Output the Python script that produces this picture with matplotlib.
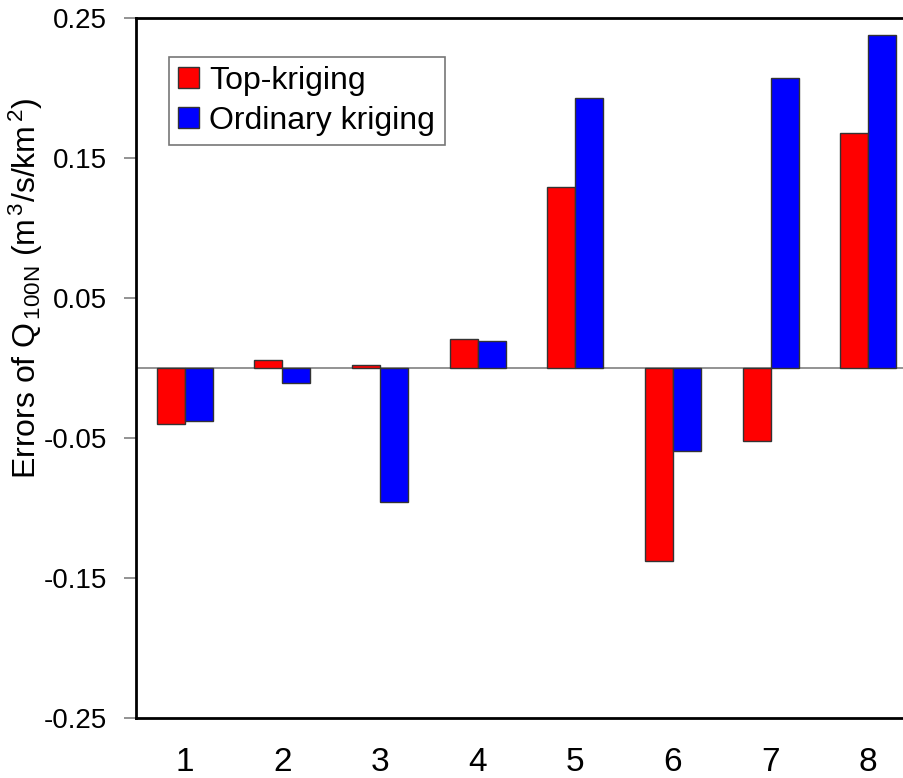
import matplotlib
matplotlib.use("Agg")
import matplotlib.pyplot as plt
import numpy as np

plt.rcParams['font.family'] = ['Liberation Sans', 'DejaVu Sans']
plt.rcParams['mathtext.fontset'] = 'custom'
plt.rcParams['mathtext.rm'] = 'Liberation Sans'
plt.rcParams['mathtext.it'] = 'Liberation Sans'

groups = [1, 2, 3, 4, 5, 6, 7, 8]
top_kriging = [-0.040, 0.0055, 0.002, 0.021, 0.129, -0.138, -0.052, 0.168]
ordinary_kriging = [-0.038, -0.0105, -0.096, 0.0195, 0.193, -0.059, 0.207, 0.238]
yticks = [-0.25, -0.15, -0.05, 0.05, 0.15, 0.25]
ytick_labels = ['-0.25', '-0.15', '-0.05', '0.05', '0.15', '0.25']

fig = plt.figure(figsize=(9.04, 7.78), dpi=100)
ax = fig.add_axes([136 / 904, 1 - 718 / 778, 781 / 904, 700 / 778])

x = np.array(groups)
w = 0.287
ax.axhline(0, color='#808080', lw=1.2, zorder=1)
ax.bar(x - w / 2, top_kriging, w, color='#ff0000', edgecolor='#333333', lw=1, label='Top-kriging', zorder=2)
ax.bar(x + w / 2, ordinary_kriging, w, color='#0000ff', edgecolor='#333333', lw=1, label='Ordinary kriging', zorder=2)

ax.set_xlim(0.5, 8.5)
ax.set_ylim(-0.25, 0.25)
ax.set_yticks(yticks)
ax.set_yticklabels(ytick_labels)
ax.set_xticks(x)
ax.set_xticklabels([str(g) for g in groups])
ax.tick_params(axis='x', length=0, pad=21, labelsize=24)
ax.tick_params(axis='y', length=9, width=1.2, color='#808080', pad=12, labelsize=20)

for s in ['left', 'top', 'bottom']:
    ax.spines[s].set_linewidth(2)
    ax.spines[s].set_color('black')
ax.spines['right'].set_visible(False)

ax.set_ylabel('Errors of Q$_{\\,100N}$ (m$^{\\,3}$/s/km$^{\\,2}$)', fontsize=23)
ax.yaxis.set_label_coords(-0.116, 0.614)

leg = ax.legend(loc='upper left', bbox_to_anchor=(0.042, 0.945), fontsize=23,
                frameon=True, fancybox=False, borderaxespad=0, handlelength=0.66,
                handleheight=0.63, handletextpad=0.31, borderpad=0.3, labelspacing=0.3)
leg.get_frame().set_edgecolor('#555555')
leg.get_frame().set_linewidth(1.2)

fig.savefig('out.png', dpi=100)
